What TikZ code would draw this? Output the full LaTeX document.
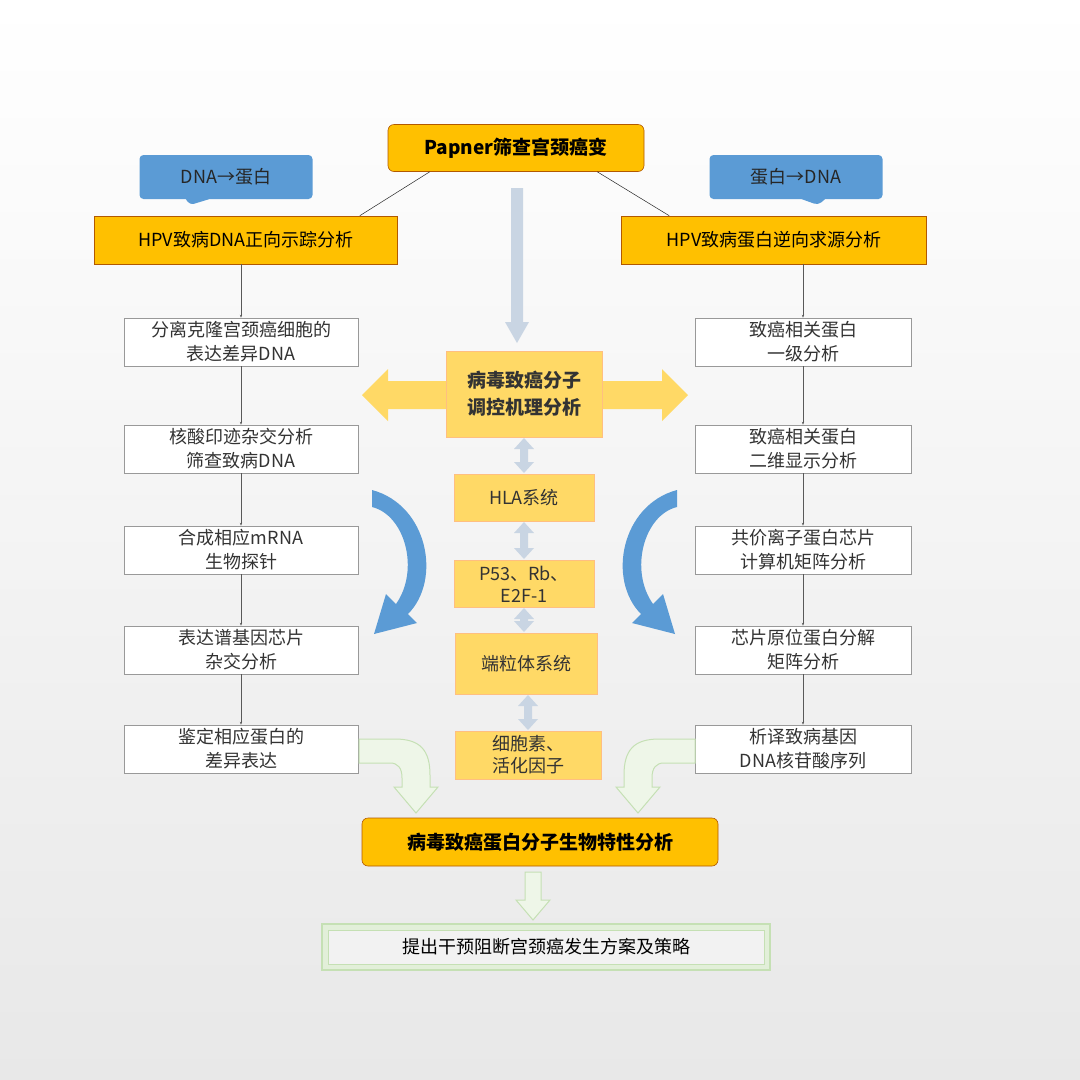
\documentclass[tikz,border=0pt]{standalone}
\usepackage{fontspec}
\setmainfont{Noto Sans CJK SC}
\usetikzlibrary{shapes.callouts,arrows.meta,calc}
\definecolor{org}{HTML}{FFC000}
\definecolor{ylw}{HTML}{FFD966}
\definecolor{blu}{HTML}{5B9BD5}
\definecolor{gar}{HTML}{C9D5E3}
\definecolor{grn}{HTML}{EEF6E8}
\definecolor{grnd}{HTML}{C5E0B4}
\tikzset{
 orgbox/.style={draw=orange!70!black,line width=0.6pt,fill=org,inner sep=0pt,font=\fontsize{18}{20}\selectfont},
 wbox/.style={draw=gray!80,line width=0.6pt,fill=white,inner sep=0pt,align=center,font=\fontsize{18}{24}\selectfont,text=black!80},
 ybox/.style={draw=orange!50,line width=0.5pt,fill=ylw,inner sep=0pt,align=center,font=\fontsize{18}{24}\selectfont,text=black!80},
 tag/.style={rectangle callout,rounded corners=4pt,fill=blu,inner sep=0pt,callout pointer width=24pt,font=\fontsize{18}{20}\selectfont,text=black!85},
 conn/.style={draw=gray!70!black,line width=0.5pt,-{Stealth[length=3pt]}},
 dbl/.style={fill=gar,draw=none},
 grarrow/.style={fill=grn,draw=grnd,line width=1pt},
 bluarrow/.style={fill=blu,draw=none},
}
\begin{document}
\begin{tikzpicture}[x=1pt,y=-1pt]
\shade[top color=white,bottom color=gray!18] (0,0) rectangle (1080,1080);
\useasboundingbox (0,0) rectangle (1080,1080);
% top
\node[orgbox,rounded corners=6pt,minimum width=256pt,minimum height=47pt,font=\fontsize{19}{20}\selectfont\bfseries] (top) at (516,148) {Papner筛查宫颈癌变};
\node[tag,minimum width=173pt,minimum height=44pt,callout absolute pointer={(190,205)}] (tl) at (226,177) {DNA→蛋白};
\node[tag,minimum width=173pt,minimum height=44pt,callout absolute pointer={(818,205)}] (tr) at (796,177) {蛋白→DNA};
\node[orgbox,minimum width=303pt,minimum height=48pt] (hl) at (246,240) {HPV致病DNA正向示踪分析};
\node[orgbox,minimum width=305pt,minimum height=48pt] (hr) at (774,240) {HPV致病蛋白逆向求源分析};
\draw[line width=0.5pt,gray!30!black] ($(top.south west)+(42,0)$) -- ($(hl.north east)+(-38,0)$);
\draw[line width=0.5pt,gray!30!black] ($(top.south east)+(-47,0)$) -- ($(hr.north west)+(48,0)$);
% columns
\foreach \n/\y/\t in {l1/342/{分离克隆宫颈癌细胞的\\表达差异DNA},l2/449/{核酸印迹杂交分析\\筛查致病DNA},l3/550/{合成相应mRNA\\生物探针},l4/650/{表达谱基因芯片\\杂交分析},l5/749/{鉴定相应蛋白的\\差异表达}}
  \node[wbox,minimum width=234pt,minimum height=48pt] (\n) at (241,\y) {\t};
\foreach \n/\y/\t in {r1/342/{致癌相关蛋白\\一级分析},r2/449/{致癌相关蛋白\\二维显示分析},r3/550/{共价离子蛋白芯片\\计算机矩阵分析},r4/650/{芯片原位蛋白分解\\矩阵分析},r5/749/{析译致病基因\\DNA核苷酸序列}}
  \node[wbox,minimum width=216pt,minimum height=48pt] (\n) at (803,\y) {\t};
\draw[conn] (hl.south-|l1) -- (l1);
\draw[conn] (l1) -- (l2); \draw[conn] (l2) -- (l3); \draw[conn] (l3) -- (l4); \draw[conn] (l4) -- (l5);
\draw[conn] (hr.south-|r1) -- (r1);
\draw[conn] (r1) -- (r2); \draw[conn] (r2) -- (r3); \draw[conn] (r3) -- (r4); \draw[conn] (r4) -- (r5);
% center
\fill[ylw] (362,395) -- (388,369) -- (388,381) -- (662,381) -- (662,369) -- (688,395) -- (662,421) -- (662,409) -- (388,409) -- (388,421) -- cycle;
\node[ybox,minimum width=156pt,minimum height=86pt,font=\fontsize{19}{27}\selectfont\bfseries] (c0) at (524,394) {病毒致癌分子\\调控机理分析};
\node[ybox,minimum width=140pt,minimum height=47pt] (c1) at (524,498) {HLA系统};
\node[ybox,minimum width=140pt,minimum height=47pt,font=\fontsize{18}{22}\selectfont] (c2) at (524,584) {P53、Rb、\\E2F-1};
\node[ybox,minimum width=142pt,minimum height=61pt] (c3) at (526,664) {端粒体系统};
\node[ybox,minimum width=146pt,minimum height=48pt,font=\fontsize{18}{22}\selectfont] (c4) at (528,755) {细胞素、\\活化因子};
\fill[gar] (511,188) rectangle (523,322) (505,322) -- (529,322) -- (517,343) -- cycle;
\foreach \x/\ya/\yb in {524/438/473,524/522/559,524/608/632,528/695/730}{
 \fill[dbl] (\x,\ya) -- ++(10,11) -- ++(-6,0) -- (\x+4,\yb-11) -- ++(6,0) -- (\x,\yb) -- ++(-10,-11) -- ++(6,0) -- (\x-4,\ya+11) -- ++(-6,0) -- cycle;
}
% blue curved arrows
\fill[bluarrow] (372,490) .. controls (428,505) and (442,580) .. (408,614) -- (417,623) -- (374,634) -- (386,594) -- (396,604) .. controls (420,570) and (405,515) .. (372,507) -- cycle;
\begin{scope}[xshift=1049pt,xscale=-1]
\fill[bluarrow] (372,490) .. controls (428,505) and (442,580) .. (408,614) -- (417,623) -- (374,634) -- (386,594) -- (396,604) .. controls (420,570) and (405,515) .. (372,507) -- cycle;
\end{scope}
% bottom
\node[orgbox,rounded corners=6pt,minimum width=356pt,minimum height=48pt,font=\fontsize{19}{20}\selectfont\bfseries] (bt) at (540,842) {病毒致癌蛋白分子生物特性分析};
\draw[grarrow] (359,739) -- (395,739) .. controls (420,739) and (430,750) .. (430,775) -- (430,787) -- (438,787) -- (416,813) -- (394,787) -- (402,787) -- (402,778) .. controls (402,768) and (398,763) .. (390,763) -- (359,763) -- cycle;
\begin{scope}[xshift=1054pt,xscale=-1]
\draw[grarrow] (359,739) -- (395,739) .. controls (420,739) and (430,750) .. (430,775) -- (430,787) -- (438,787) -- (416,813) -- (394,787) -- (402,787) -- (402,778) .. controls (402,768) and (398,763) .. (390,763) -- (359,763) -- cycle;
\end{scope}
\draw[grarrow] (525,872) -- (541,872) -- (541,900) -- (550,900) -- (533,920) -- (516,900) -- (525,900) -- cycle;
\node[draw=grnd,line width=1.2pt,fill=grnd!50,minimum width=448pt,minimum height=46pt,inner sep=0pt] (fin) at (546,947) {};
\node[draw=grnd,line width=0.8pt,fill=white!90!gray,minimum width=436pt,minimum height=34pt,inner sep=0pt,font=\fontsize{18}{20}\selectfont] (fin2) at (fin) {提出干预阻断宫颈癌发生方案及策略};
\end{tikzpicture}
\end{document}
